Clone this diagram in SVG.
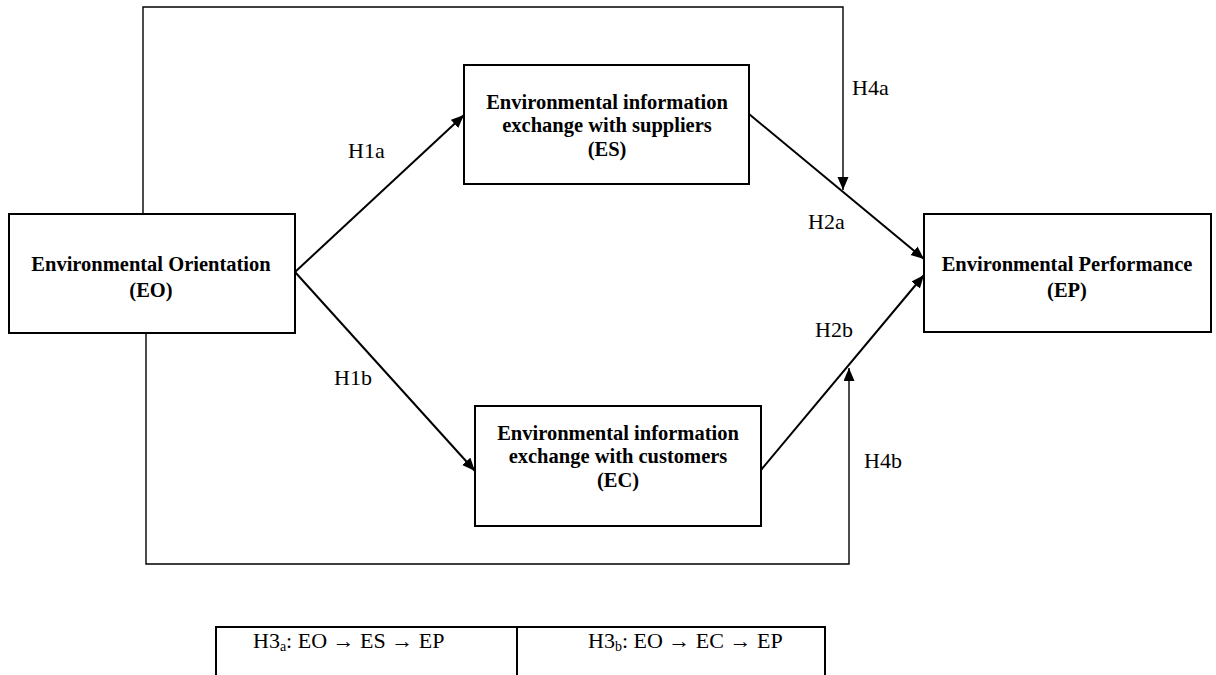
<svg xmlns="http://www.w3.org/2000/svg" width="1216" height="675" viewBox="0 0 1216 675">
<style>
.box{fill:#fff;stroke:#000;stroke-width:2}
.b{font-family:"Liberation Serif","Times New Roman",serif;font-weight:bold;font-size:20.5px;fill:#000;text-anchor:middle}
.r{font-family:"Liberation Serif","Times New Roman",serif;font-size:22px;fill:#000}
.c{fill:none;stroke:#000;stroke-width:2}
.t{fill:none;stroke:#000;stroke-width:1.4}
</style>
<defs>
<marker id="ah" markerUnits="userSpaceOnUse" markerWidth="14" markerHeight="12" refX="13" refY="5.5" orient="auto">
<path d="M0,0 L13,5.5 L0,11 Z" fill="#000"/>
</marker>
</defs>
<rect width="1216" height="675" fill="#fff"/>
<g id="connectors">
<polyline class="t" points="143,214 143,7 843,7 843,190" marker-end="url(#ah)"/>
<polyline class="t" points="146,333 146,564 849,564 849,368" marker-end="url(#ah)"/>
<line class="c" x1="295" y1="272" x2="464" y2="115" marker-end="url(#ah)"/>
<line class="c" x1="295" y1="272" x2="475" y2="471" marker-end="url(#ah)"/>
<line class="c" x1="749" y1="114" x2="924" y2="259" marker-end="url(#ah)"/>
<line class="c" x1="761" y1="470" x2="924" y2="275" marker-end="url(#ah)"/>
<text class="r" x="348" y="158">H1a</text>
<text class="r" x="334" y="385">H1b</text>
<text class="r" x="808" y="229">H2a</text>
<text class="r" x="815" y="337">H2b</text>
<text class="r" x="852" y="95">H4a</text>
<text class="r" x="864" y="468">H4b</text>
</g>
<g id="EO">
<rect class="box" x="9" y="214" width="286" height="119"/>
<text class="b" x="151" y="271">Environmental Orientation</text>
<text class="b" x="151" y="297">(EO)</text>
</g>
<g id="ES">
<rect class="box" x="464" y="65" width="285" height="119"/>
<text class="b" x="607" y="109">Environmental information</text>
<text class="b" x="607" y="132">exchange with suppliers</text>
<text class="b" x="607" y="156">(ES)</text>
</g>
<g id="EC">
<rect class="box" x="475" y="406" width="286" height="120"/>
<text class="b" x="618" y="440">Environmental information</text>
<text class="b" x="618" y="463">exchange with customers</text>
<text class="b" x="618" y="487">(EC)</text>
</g>
<g id="EP">
<rect class="box" x="924" y="214" width="287" height="118"/>
<text class="b" x="1067" y="271">Environmental Performance</text>
<text class="b" x="1067" y="297">(EP)</text>
</g>
<g id="table">
<polyline class="c" points="216,676 216,627 825,627 825,676"/>
<line class="c" x1="517" y1="627" x2="517" y2="676"/>
<text class="r" x="253" y="648">H3<tspan font-size="14" dy="3">a</tspan><tspan dy="-3">: EO → ES → EP</tspan></text>
<text class="r" x="588" y="648">H3<tspan font-size="14" dy="3">b</tspan><tspan dy="-3">: EO → EC → EP</tspan></text>
</g>
</svg>
